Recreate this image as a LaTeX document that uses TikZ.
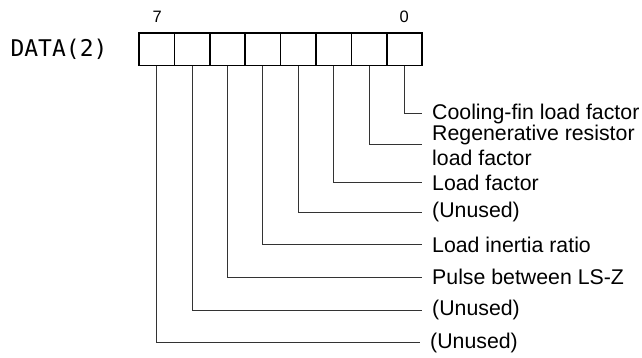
\documentclass[tikz,border=0pt]{standalone}
\usepackage{fontspec}
\setmainfont{Liberation Sans}
\newfontfamily\monofnt{DejaVu Sans Mono}
\begin{document}
\begin{tikzpicture}[x=1pt,y=-1pt,
  bitbox/.style={draw=black,line width=1.6pt,minimum width=35.4pt,minimum height=32.4pt,inner sep=0pt,outer sep=0pt},
  lbl/.style={anchor=west,inner sep=0pt,align=left,font=\fontsize{21.3}{25}\selectfont},
  bitnum/.style={inner sep=0pt,font=\fontsize{16.5}{18}\selectfont},
  conn/.style={draw=black!80,line width=1pt}]
\useasboundingbox (0,0) rectangle (642,358);
\node[inner sep=0pt,font=\monofnt\fontsize{23}{26}\selectfont] (data) at (59,49.2) {DATA(2)};
\foreach \i in {7,...,0}{
  \node[bitbox] (b\i) at ({139+35.4*(7-\i)+17.7},49.5) {};
}
\node[bitnum] (n7) at (157.3,16.7) {7};
\node[bitnum] (n0) at (404.3,16.7) {0};
\node[lbl] (l0) at (432,114) {Cooling-fin load factor};
\node[lbl] (l1) at (432,145) {Regenerative resistor\\load factor};
\node[lbl] (l2) at (432,182.7) {Load factor};
\node[lbl] (l3) at (432,212.3) {(Unused)};
\node[lbl] (l4) at (432,244.7) {Load inertia ratio};
\node[lbl] (l5) at (432,277.3) {Pulse between LS-Z};
\node[lbl] (l6) at (432,310) {(Unused)};
\node[lbl] (l7) at (430,342.7) {(Unused)};
\foreach \i in {0,...,7}{
  \draw[conn] (b\i.south) |- ([xshift=-10.5pt]l\i.west);
}
\end{tikzpicture}
\end{document}
